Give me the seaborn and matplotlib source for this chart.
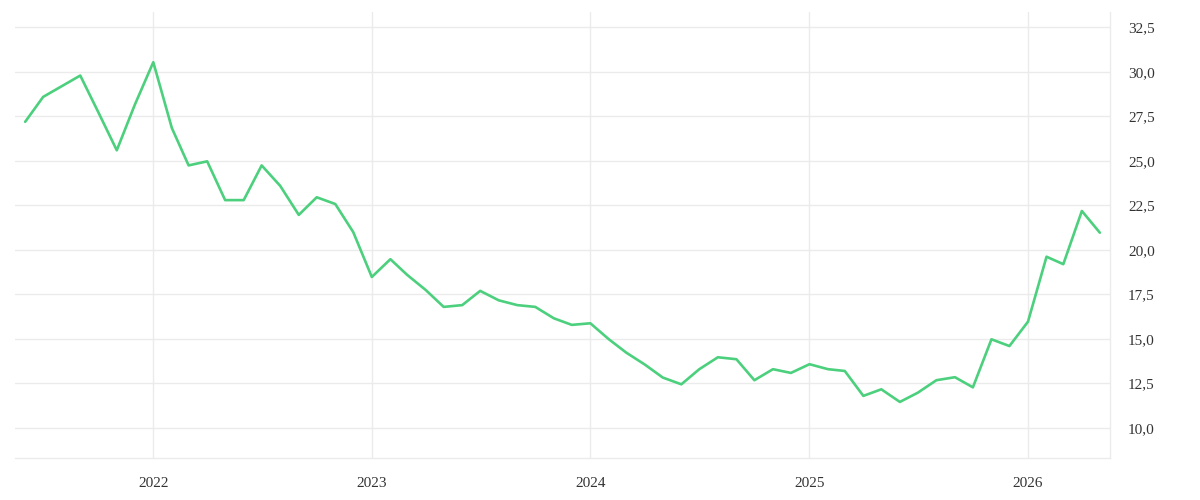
import matplotlib.pyplot as plt
import matplotlib.dates as mdates
import matplotlib.ticker as mticker
import pandas as pd
import seaborn as sns

# Monthly values, June 2021 - May 2026
start_month = '2021-06-01'
values = [
    27.2, 28.6, 29.2, 29.8, 27.75, 25.6, 28.15,              # 2021
    30.55, 26.85, 24.75, 24.98, 22.8, 22.8, 24.75, 23.6,
    21.97, 22.96, 22.58, 21.0,                                # 2022
    18.48, 19.48, 18.6, 17.75, 16.8, 16.9, 17.7, 17.17,
    16.9, 16.8, 16.16, 15.79,                                 # 2023
    15.88, 14.98, 14.23, 13.56, 12.83, 12.45, 13.3, 13.97,
    13.86, 12.68, 13.3, 13.09,                                # 2024
    13.58, 13.3, 13.2, 11.8, 12.17, 11.46, 11.98, 12.68,
    12.85, 12.28, 14.98, 14.6,                                # 2025
    15.97, 19.62, 19.2, 22.19, 20.97,                         # 2026
]
year_ticks = ['2022-01-01', '2023-01-01', '2024-01-01', '2025-01-01', '2026-01-01']
y_ticks = [10.0, 12.5, 15.0, 17.5, 20.0, 22.5, 25.0, 27.5, 30.0, 32.5]

df = pd.DataFrame({
    'date': pd.date_range(start_month, periods=len(values), freq='MS'),
    'value': values,
})

sns.set_theme(style='white')
plt.rcParams['font.family'] = ['Liberation Serif', 'DejaVu Serif']

grid_col = '#ebebeb'
fig = plt.figure(figsize=(12, 5), dpi=100)
ax = fig.add_axes([0.0125, 0.084, 0.9125, 0.892])

sns.lineplot(data=df, x='date', y='value', ax=ax, color='#4cd07d', linewidth=1.9)

pad = pd.Timedelta(days=17)
ax.set_xlim(df['date'].iloc[0] - pad, df['date'].iloc[-1] + pad)
ax.set_ylim(8.31, 33.37)

ax.set_xticks(pd.to_datetime(year_ticks))
ax.xaxis.set_major_formatter(mdates.DateFormatter('%Y'))
ax.set_yticks(y_ticks)
ax.yaxis.set_major_formatter(mticker.FuncFormatter(lambda v, p: f'{v:.1f}'.replace('.', ',')))
ax.yaxis.tick_right()

ax.grid(True, color=grid_col, linewidth=1)
ax.tick_params(axis='x', length=10, width=1, color=grid_col, pad=4, labelsize=11, labelcolor='#333333')
ax.tick_params(axis='y', length=0, pad=13, labelsize=11, labelcolor='#333333')

for side in ['top', 'left']:
    ax.spines[side].set_visible(False)
for side in ['right', 'bottom']:
    ax.spines[side].set_color(grid_col)
    ax.spines[side].set_linewidth(1)

ax.set_xlabel('')
ax.set_ylabel('')

fig.savefig('out.png', dpi=100)
